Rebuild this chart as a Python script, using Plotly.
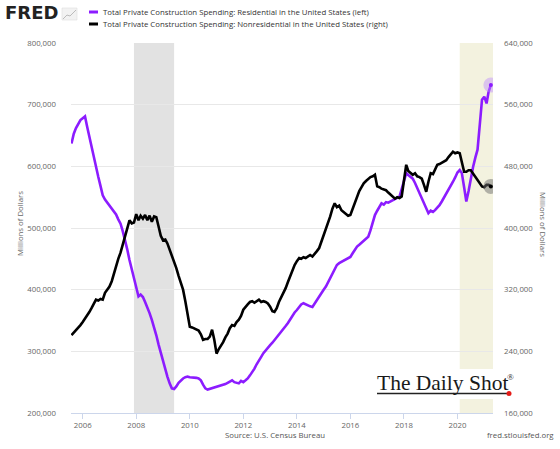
import pandas as pd
import plotly.graph_objects as go

# Monthly dates (Aug 2005 - Apr 2021)
dates = pd.date_range("2005-08-01", "2021-04-01", freq="MS")

# Residential, millions of dollars (left axis), read in thousands
residential_k = [
    637, 653, 662, 670, 675, 678, 681, 665, 648, 628, 612, 596, 583, 568, 553, 546, 541, 537, 531, 527,
    522, 514, 507, 495, 481, 465, 448, 432, 416, 401, 389, 392, 388, 380, 372, 362, 351, 340, 326, 311,
    297, 283, 270, 259, 248, 240, 239, 243, 249, 253, 256, 258, 259, 258, 258, 257, 257, 256, 253, 246,
    240, 238, 239, 240, 241, 242, 243, 244, 245, 247, 249, 251, 253, 250, 249, 248, 252, 250, 253, 256,
    261, 266, 272, 279, 286, 291, 297, 302, 306, 310, 314, 318, 322, 327, 331, 335, 341, 346, 352, 358,
    363, 367, 372, 376, 378, 376, 374, 373, 372, 378, 384, 390, 396, 400, 405, 412, 419, 426, 433, 440,
    443, 445, 447, 450, 452, 453, 459, 465, 470, 473, 476, 479, 482, 486, 496, 509, 521, 528, 535, 540,
    538, 542, 541, 543, 545, 547, 549, 551, 563, 577, 589, 586, 583, 580, 573, 565, 558, 551, 541, 532,
    524, 528, 526, 529, 533, 537, 543, 549, 556, 562, 568, 575, 582, 590, 594, 589, 566, 543, 560, 582,
    599, 614, 627, 668, 708, 713, 702, 721, 732,
]

# Nonresidential, millions of dollars (right axis), read in thousands
nonresidential_k = [
    261, 264, 267, 271, 274, 278, 282, 286, 291, 296, 301, 307, 306, 308, 307, 316, 320, 324, 331, 341,
    349, 360, 368, 378, 388, 400, 410, 406, 407, 418, 410, 416, 412, 417, 410, 416, 408, 415, 414, 402,
    390, 384, 385, 380, 372, 364, 357, 348, 338, 330, 320, 305, 286, 272, 271, 270, 269, 267, 262, 255,
    256, 256, 259, 268, 255, 237, 243, 247, 252, 258, 263, 270, 274, 273, 278, 281, 286, 294, 298, 301,
    304, 305, 303, 305, 307, 304, 305, 304, 302, 298, 292, 291, 296, 304, 310, 315, 322, 330, 338, 345,
    352, 357, 361, 360, 362, 361, 363, 365, 363, 366, 370, 374, 382, 390, 397, 405, 415, 425, 432, 427,
    429, 423, 421, 419, 416, 417, 425, 432, 441, 448, 453, 458, 461, 464, 466, 467, 469, 454, 453, 451,
    450, 449, 446, 443, 441, 438, 440, 439, 441, 465, 482, 474, 472, 469, 471, 467, 466, 464, 456, 447,
    460, 471, 470, 476, 482, 483, 485, 486, 488, 492, 495, 499, 497, 498, 497, 486, 473, 473, 475, 475,
    471, 467, 462, 458, 454, 453, 456, 456, 454,
]

residential = [v * 1000 for v in residential_k]
nonresidential = [v * 1000 for v in nonresidential_k]

left_ticks = [200000, 300000, 400000, 500000, 600000, 700000, 800000]
right_ticks = [160000, 240000, 320000, 400000, 480000, 560000, 640000]

legend_names = [
    "Total Private Construction Spending: Residential in the United States (left)",
    "Total Private Construction Spending: Nonresidential in the United States (right)",
]

PURPLE = "#8c1cff"
BLACK = "#000000"
FONT = "Open Sans"
W, H = 560, 449
L, R, T, B = 71, 67, 43, 36
PW, PH = W - L - R, H - T - B


def px(x):
    return (x - L) / PW


def py(y):
    return (H - B - y) / PH


fig = go.Figure()
fig.add_trace(go.Scatter(x=dates, y=residential, mode="lines", name=legend_names[0],
                         line=dict(color=PURPLE, width=2.6), yaxis="y", showlegend=False))
fig.add_trace(go.Scatter(x=dates, y=nonresidential, mode="lines", name=legend_names[1],
                         line=dict(color=BLACK, width=2.6), yaxis="y2", showlegend=False))
# end-point halos
fig.add_trace(go.Scatter(x=[dates[-1]], y=[residential[-1]], mode="markers", yaxis="y",
                         marker=dict(size=15, color="rgba(190,140,255,0.45)"), showlegend=False,
                         hoverinfo="skip"))
fig.add_trace(go.Scatter(x=[dates[-1]], y=[residential[-1]], mode="markers", yaxis="y",
                         marker=dict(size=4, color=PURPLE), showlegend=False, hoverinfo="skip"))
fig.add_trace(go.Scatter(x=[dates[-1]], y=[nonresidential[-1]], mode="markers", yaxis="y2",
                         marker=dict(size=15, color="rgba(110,110,110,0.5)"), showlegend=False,
                         hoverinfo="skip"))
fig.add_trace(go.Scatter(x=[dates[-1]], y=[nonresidential[-1]], mode="markers", yaxis="y2",
                         marker=dict(size=4, color=BLACK), showlegend=False, hoverinfo="skip"))

shapes = [
    dict(type="rect", xref="x", yref="paper", x0="2007-12-01", x1="2009-06-01", y0=0, y1=1,
         fillcolor="#e2e2e2", line=dict(width=0), layer="below"),
    dict(type="rect", xref="x", yref="paper", x0="2020-02-01", x1="2021-04-30", y0=0, y1=1,
         fillcolor="#f3f2df", line=dict(width=0), layer="below"),
    # white backing for the Daily Shot logo
    dict(type="rect", xref="paper", yref="paper", x0=px(372), x1=px(516), y0=py(399), y1=py(369),
         fillcolor="#ffffff", line=dict(width=0), layer="above"),
    # legend line keys
    dict(type="line", xref="paper", yref="paper", x0=px(89), x1=px(98), y0=py(12), y1=py(12),
         line=dict(color=PURPLE, width=3)),
    dict(type="line", xref="paper", yref="paper", x0=px(89), x1=px(98), y0=py(24), y1=py(24),
         line=dict(color=BLACK, width=3)),
    # Daily Shot underline and dot
    dict(type="line", xref="paper", yref="paper", x0=px(377), x1=px(507), y0=py(393.5), y1=py(393.5),
         line=dict(color="#222222", width=1.4)),
    dict(type="circle", xref="paper", yref="paper", x0=px(506.5), x1=px(511.5), y0=py(391), y1=py(396),
         fillcolor="#e41b17", line=dict(width=0)),
    # FRED small chart icon
    dict(type="rect", xref="paper", yref="paper", x0=px(62), x1=px(77), y0=py(8), y1=py(20),
         fillcolor="#f2f2f2", line=dict(color="#dddddd", width=0.6)),
    dict(type="path", xref="paper", yref="paper",
         path=f"M {px(63)} {py(19)} L {px(67)} {py(15)} L {px(70)} {py(16)} L {px(76)} {py(10)}",
         line=dict(color="#bbbbbb", width=1)),
]

annotations = [
    dict(text="<b>FRED</b>", x=px(3), y=py(13), xref="paper", yref="paper", xanchor="left",
         yanchor="middle", showarrow=False, font=dict(family="DejaVu Sans", size=18, color="#222222")),
    dict(text=legend_names[0], x=px(101), y=py(12), xref="paper", yref="paper", xanchor="left",
         yanchor="middle", showarrow=False, font=dict(family=FONT, size=7.8, color="#333333")),
    dict(text=legend_names[1], x=px(101), y=py(24), xref="paper", yref="paper", xanchor="left",
         yanchor="middle", showarrow=False, font=dict(family=FONT, size=7.8, color="#333333")),
    dict(text="Millions of Dollars", x=px(13), y=py(224), xref="paper", yref="paper", textangle=-90,
         showarrow=False, font=dict(family=FONT, size=7.8, color="#666666")),
    dict(text="Millions of Dollars", x=px(550), y=py(224), xref="paper", yref="paper", textangle=90,
         showarrow=False, font=dict(family=FONT, size=7.8, color="#666666")),
    dict(text="Source: U.S. Census Bureau", x=px(275), y=py(442), xref="paper", yref="paper",
         showarrow=False, font=dict(family=FONT, size=7.8, color="#555555")),
    dict(text="fred.stlouisfed.org", x=px(556), y=py(442), xref="paper", yref="paper", xanchor="right",
         showarrow=False, font=dict(family=FONT, size=7.8, color="#555555")),
    dict(text="The Daily Shot", x=px(375), y=py(383), xref="paper", yref="paper",
         xanchor="left", yanchor="middle", showarrow=False,
         font=dict(family="Liberation Serif", size=21.5, color="#1a1a1a")),
    dict(text="®", x=px(510), y=py(377), xref="paper", yref="paper",
         xanchor="center", yanchor="middle", showarrow=False,
         font=dict(family="Liberation Serif", size=9, color="#1a1a1a")),
]

fig.update_layout(
    width=W, height=H,
    margin=dict(l=L, r=R, t=T, b=B),
    paper_bgcolor="#ffffff", plot_bgcolor="#ffffff",
    font=dict(family=FONT, size=8, color="#666666"),
    showlegend=False,
    shapes=shapes,
    annotations=annotations,
    xaxis=dict(type="date", range=["2005-07-25", "2021-04-30"], tick0="2006-01-01", dtick="M24",
               tickformat="%Y", showgrid=False, zeroline=False, showline=True, linecolor="#ccd6eb",
               linewidth=1, ticks="outside", ticklen=5, tickcolor="#ccd6eb",
               tickfont=dict(family=FONT, size=7.8, color="#666666")),
    yaxis=dict(range=[200000, 800000], tickvals=left_ticks, tickformat=",d", showgrid=True,
               gridcolor="#e8e8e8", gridwidth=1, zeroline=False, showline=False, ticks="",
               ticklabelstandoff=14, tickfont=dict(family=FONT, size=7.8, color="#666666")),
    yaxis2=dict(range=[160000, 640000], tickvals=right_ticks, tickformat=",d", overlaying="y",
                side="right", showgrid=False, zeroline=False, showline=False, ticks="",
                ticklabelstandoff=10, tickfont=dict(family=FONT, size=7.8, color="#666666")),
)

fig.write_html("out.html")
